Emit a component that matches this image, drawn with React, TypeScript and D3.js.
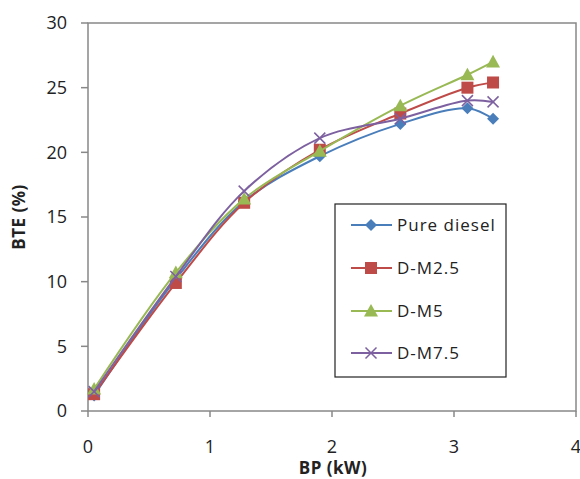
import * as d3 from "d3";

const bp = [0.05, 0.72, 1.28, 1.9, 2.56, 3.11, 3.32];

const pureDiesel = [1.2, 10.2, 16.2, 19.7, 22.2, 23.4, 22.6];
const dm25 = [1.3, 9.9, 16.1, 20.2, 23.0, 25.0, 25.4];
const dm5 = [1.7, 10.7, 16.4, 20.1, 23.6, 26.0, 27.0];
const dm75 = [1.5, 10.4, 17.0, 21.1, 22.6, 24.0, 23.9];

const xTicks = [0, 1, 2, 3, 4];
const yTicks = [0, 5, 10, 15, 20, 25, 30];

const series = [
  { name: "Pure diesel", values: pureDiesel, color: "#4a7ebb", marker: "diamond" },
  { name: "D-M2.5", values: dm25, color: "#be4b48", marker: "square" },
  { name: "D-M5", values: dm5, color: "#98b954", marker: "triangle" },
  { name: "D-M7.5", values: dm75, color: "#7d60a0", marker: "x" },
];

const width = 580;
const height = 479;
const left = 88;
const right = 576;
const top = 23;
const bottom = 411;

const font = "'Open Sans', sans-serif";

function Marker({ type, x, y, color }: { type: string; x: number; y: number; color: string }) {
  if (type === "diamond") {
    const r = 6;
    return <path d={`M${x},${y - r}L${x + r},${y}L${x},${y + r}L${x - r},${y}Z`} fill={color} />;
  }
  if (type === "square") {
    const s = 12;
    return <rect x={x - s / 2} y={y - s / 2} width={s} height={s} fill={color} />;
  }
  if (type === "triangle") {
    const r = 7;
    return <path d={`M${x},${y - r}L${x + r},${y + r * 0.8}L${x - r},${y + r * 0.8}Z`} fill={color} />;
  }
  const r = 5.5;
  return (
    <path
      d={`M${x - r},${y - r}L${x + r},${y + r}M${x - r},${y + r}L${x + r},${y - r}`}
      stroke={color}
      strokeWidth={1.5}
      fill="none"
    />
  );
}

export default function App() {
  const x = d3.scaleLinear().domain([0, 4]).range([left, right]);
  const y = d3.scaleLinear().domain([0, 30]).range([bottom, top]);

  const line = d3
    .line<number>()
    .x((_, i) => x(bp[i]))
    .y((d) => y(d))
    .curve(d3.curveCatmullRom.alpha(0.5));

  const legX = 335;
  const legY = 204;
  const legW = 171;
  const legH = 173;
  const legRows = [225, 268, 311, 353];

  return (
    <svg
      width={width}
      height={height}
      style={{ position: "absolute", left: 0, top: 0, background: "#fff" }}
      fontFamily={font}
    >
      <rect x={left} y={top} width={right - left} height={bottom - top} fill="none" stroke="#888" strokeWidth={1.5} />

      {yTicks.map((t) => (
        <g key={"y" + t}>
          <line x1={left - 7} x2={left} y1={y(t)} y2={y(t)} stroke="#888" strokeWidth={1.5} />
          <text x={67} y={y(t)} dy="0.35em" textAnchor="end" fontSize={18} fill="#222">
            {t}
          </text>
        </g>
      ))}
      {xTicks.map((t) => (
        <g key={"x" + t}>
          <line x1={x(t)} x2={x(t)} y1={bottom} y2={bottom + 6} stroke="#888" strokeWidth={1.5} />
          <text x={x(t)} y={453} textAnchor="middle" fontSize={18} fill="#222">
            {t}
          </text>
        </g>
      ))}

      <text x={333} y={474} textAnchor="middle" fontSize={17} fontWeight="bold" letterSpacing={0.5} fill="#222">
        BP (kW)
      </text>
      <text
        transform={`translate(25,${(top + bottom) / 2}) rotate(-90)`}
        textAnchor="middle"
        fontSize={17}
        fontWeight="bold"
        letterSpacing={0.5}
        fill="#222"
      >
        BTE (%)
      </text>

      {series.map((s) => (
        <g key={s.name}>
          <path d={line(s.values) ?? ""} fill="none" stroke={s.color} strokeWidth={2} />
          {s.values.map((v, i) => (
            <Marker key={i} type={s.marker} x={x(bp[i])} y={y(v)} color={s.color} />
          ))}
        </g>
      ))}

      <rect x={legX} y={legY} width={legW} height={legH} fill="#fff" stroke="#222" strokeWidth={1.2} />
      {series.map((s, i) => (
        <g key={"leg" + s.name}>
          <line x1={351} x2={392} y1={legRows[i]} y2={legRows[i]} stroke={s.color} strokeWidth={2} />
          <Marker type={s.marker} x={371} y={legRows[i]} color={s.color} />
          <text x={397} y={legRows[i]} dy="0.35em" fontSize={17} letterSpacing={1} fill="#222">
            {s.name}
          </text>
        </g>
      ))}
    </svg>
  );
}
